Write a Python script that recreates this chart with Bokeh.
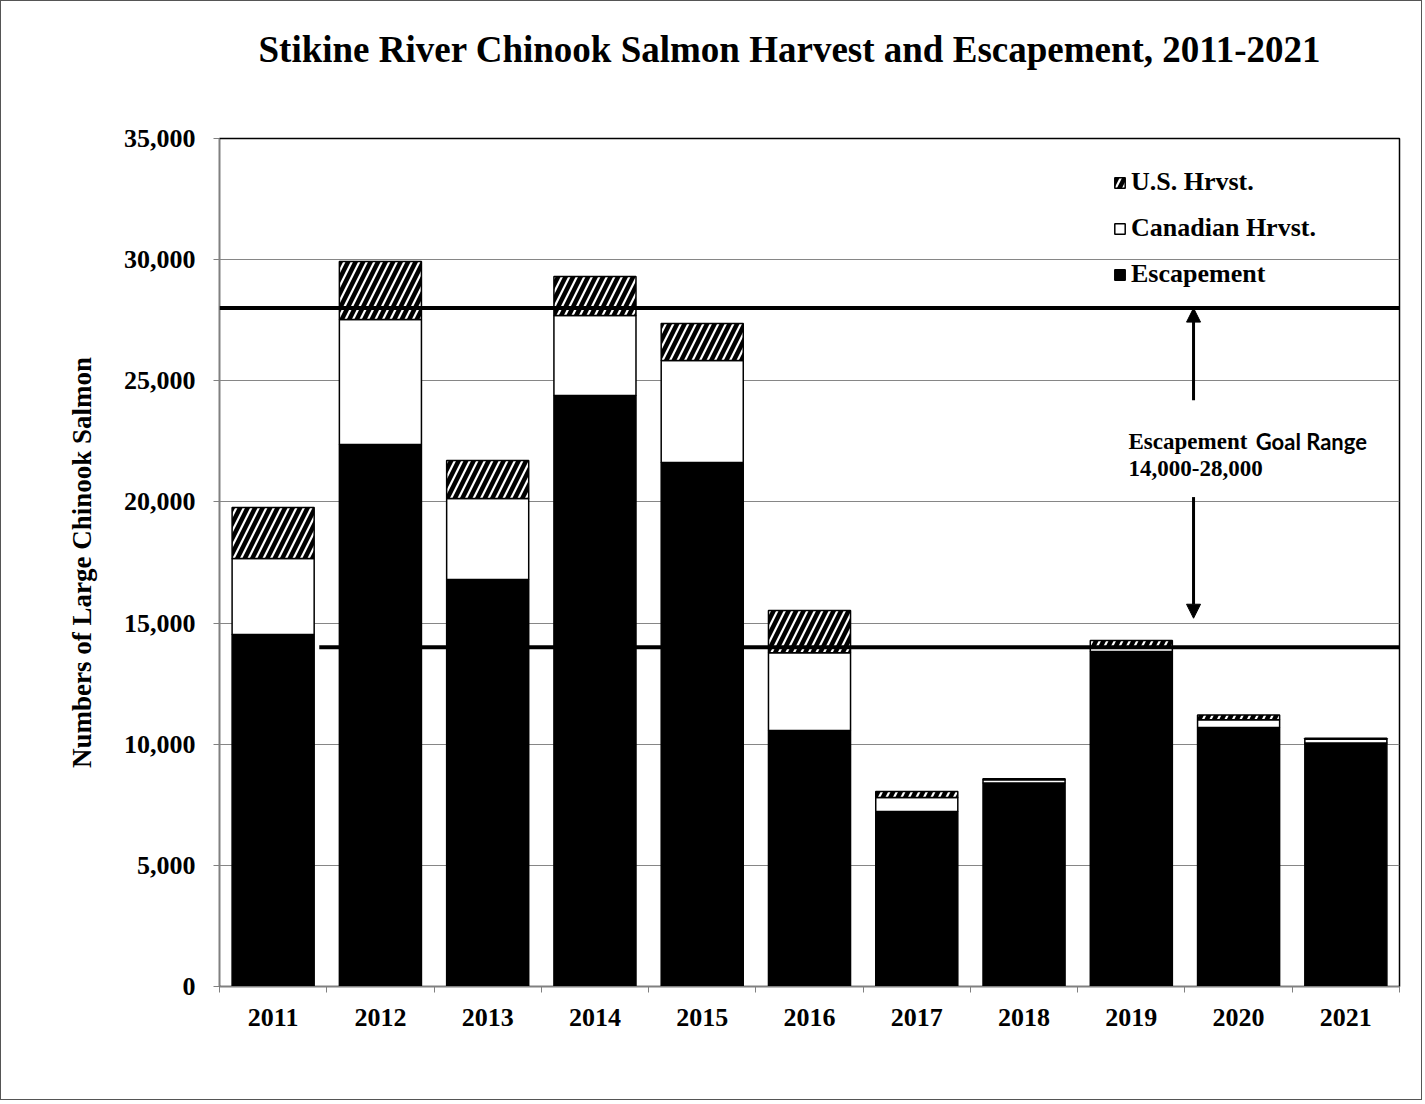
import numpy as np
from bokeh.plotting import figure
from bokeh.models import (FactorRange, Range1d, LinearAxis, FixedTicker, NumeralTickFormatter,
                          Span, Arrow, NormalHead, Label, Legend, LegendItem, ColumnDataSource,
                          Title)
from bokeh.embed import file_html
from bokeh.resources import INLINE

# ---------------- data ----------------
years = ["2011", "2012", "2013", "2014", "2015", "2016", "2017", "2018", "2019", "2020", "2021"]
escapement = [14530, 22370, 16800, 24390, 21630, 10570, 7220, 8400, 13830, 10690, 10050]
canadian_hrvst = [3130, 5160, 3340, 3300, 4210, 3210, 580, 130, 160, 320, 160]
us_hrvst = [2110, 2390, 1570, 1610, 1520, 1740, 250, 40, 290, 200, 40]
y_ticks = [0, 5000, 10000, 15000, 20000, 25000, 30000, 35000]
goal_low = 14000
goal_high = 28000

title_text = "Stikine River Chinook Salmon Harvest and Escapement, 2011-2021"
y_title = "Numbers of Large Chinook Salmon"

# ---------------- derived ----------------
esc = np.array(escapement, dtype=float)
can = np.array(canadian_hrvst, dtype=float)
us = np.array(us_hrvst, dtype=float)
src = ColumnDataSource(dict(
    year=years,
    esc_top=esc,
    can_top=esc + can,
    us_top=esc + can + us,
))

SERIF = "Liberation Serif"

p = figure(x_range=FactorRange(*years), y_range=Range1d(0, 35000),
           frame_width=1180, frame_height=848,
           min_border_left=218, min_border_top=137, min_border_right=22, min_border_bottom=113,
           output_backend="svg", toolbar_location=None, x_axis_location=None,
           title=None)
p.styles = {"border": "1.5px solid #555555"}

# spacer between frame and title, then the title itself (further from the frame)
p.add_layout(Title(text=" ", text_font_size="10px", standoff=56), "above")
p.add_layout(Title(text=title_text, align="left", offset=39, standoff=0,
                   text_font=SERIF, text_font_size="37px", text_font_style="bold",
                   text_color="black"), "above")

p.outline_line_color = "black"
p.outline_line_width = 1.5
p.background_fill_color = "white"
p.border_fill_color = "white"

# y axis
ya = p.yaxis[0]
ya.ticker = FixedTicker(ticks=y_ticks, minor_ticks=[])
ya.formatter = NumeralTickFormatter(format="0,0")
ya.major_label_text_font = SERIF
ya.major_label_text_font_size = "26px"
ya.major_label_text_font_style = "bold"
ya.major_label_text_color = "black"
ya.major_tick_in = 0
ya.major_tick_out = 6
ya.major_tick_line_color = "#808080"
ya.minor_tick_line_color = None
ya.axis_line_color = "#808080"
ya.major_label_standoff = 18
ya.axis_label = y_title
ya.axis_label_text_font = SERIF
ya.axis_label_text_font_size = "27px"
ya.axis_label_text_font_style = "bold"
ya.axis_label_text_color = "black"
ya.axis_label_standoff = 24

p.ygrid.grid_line_color = "#868686"
p.ygrid.grid_line_width = 1
p.xgrid.grid_line_color = None

# x axis (category labels centred, boundary ticks between categories)
n = len(years)
xa = LinearAxis(ticker=FixedTicker(ticks=[i + 0.5 for i in range(n)],
                                   minor_ticks=list(range(n + 1))),
                major_label_overrides={i + 0.5: y for i, y in enumerate(years)})
xa.major_tick_line_color = None
xa.major_tick_out = 6
xa.minor_tick_in = 0
xa.minor_tick_out = 6
xa.minor_tick_line_color = "#808080"
xa.axis_line_color = "#808080"
xa.major_label_text_font = SERIF
xa.major_label_text_font_size = "26px"
xa.major_label_text_font_style = "bold"
xa.major_label_text_color = "black"
xa.major_label_standoff = 16
p.add_layout(xa, "below")

# bars
BW = 0.765
r_esc = p.vbar(x="year", bottom=0, top="esc_top", width=BW, source=src,
               fill_color="black", line_color="black", line_width=1.5)
r_can = p.vbar(x="year", bottom="esc_top", top="can_top", width=BW, source=src,
               fill_color="white", line_color="black", line_width=1.5)
r_us = p.vbar(x="year", bottom="can_top", top="us_top", width=BW, source=src,
              fill_color="white", line_color="black", line_width=1.5,
              hatch_pattern="/", hatch_color="black", hatch_weight=4.5, hatch_scale=15)

# goal lines
p.add_layout(Span(location=goal_high, dimension="width", line_color="black", line_width=4))
p.segment(x0=[0.93], x1=[float(n)], y0=[goal_low], y1=[goal_low],
          line_color="black", line_width=4)

# arrows
AX = 9.08
p.add_layout(Arrow(end=NormalHead(size=14, fill_color="black", line_color="black"),
                   x_start=AX, x_end=AX, y_start=24200, y_end=goal_high,
                   line_width=3, line_color="black"))
p.add_layout(Arrow(end=NormalHead(size=14, fill_color="black", line_color="black"),
                   x_start=AX, x_end=AX, y_start=20200, y_end=15200,
                   line_width=3, line_color="black"))

# annotation text
p.add_layout(Label(x=8.474, y=22480, text="Escapement",
                   text_font=SERIF, text_font_size="23px", text_font_style="bold",
                   text_baseline="middle", text_align="left", text_color="black"))
p.add_layout(Label(x=9.66, y=22480, text="Goal Range",
                   text_font="Lato", text_font_size="22px", text_font_style="bold",
                   text_baseline="middle", text_align="left", text_color="black"))
p.add_layout(Label(x=8.474, y=21380, text="14,000-28,000",
                   text_font=SERIF, text_font_size="23px", text_font_style="bold",
                   text_baseline="middle", text_align="left", text_color="black"))

# legend
legend = Legend(items=[LegendItem(label="U.S. Hrvst.", renderers=[r_us]),
                       LegendItem(label="Canadian Hrvst.", renderers=[r_can]),
                       LegendItem(label="Escapement", renderers=[r_esc])],
                location=(894, 697), orientation="vertical",
                label_text_font=SERIF, label_text_font_size="26px",
                label_text_font_style="bold", label_text_color="black",
                glyph_width=13, glyph_height=13, spacing=16, padding=0, margin=0,
                label_standoff=5, border_line_color=None, background_fill_alpha=0)
p.add_layout(legend)

open("out.html", "w").write(file_html(p, INLINE))
